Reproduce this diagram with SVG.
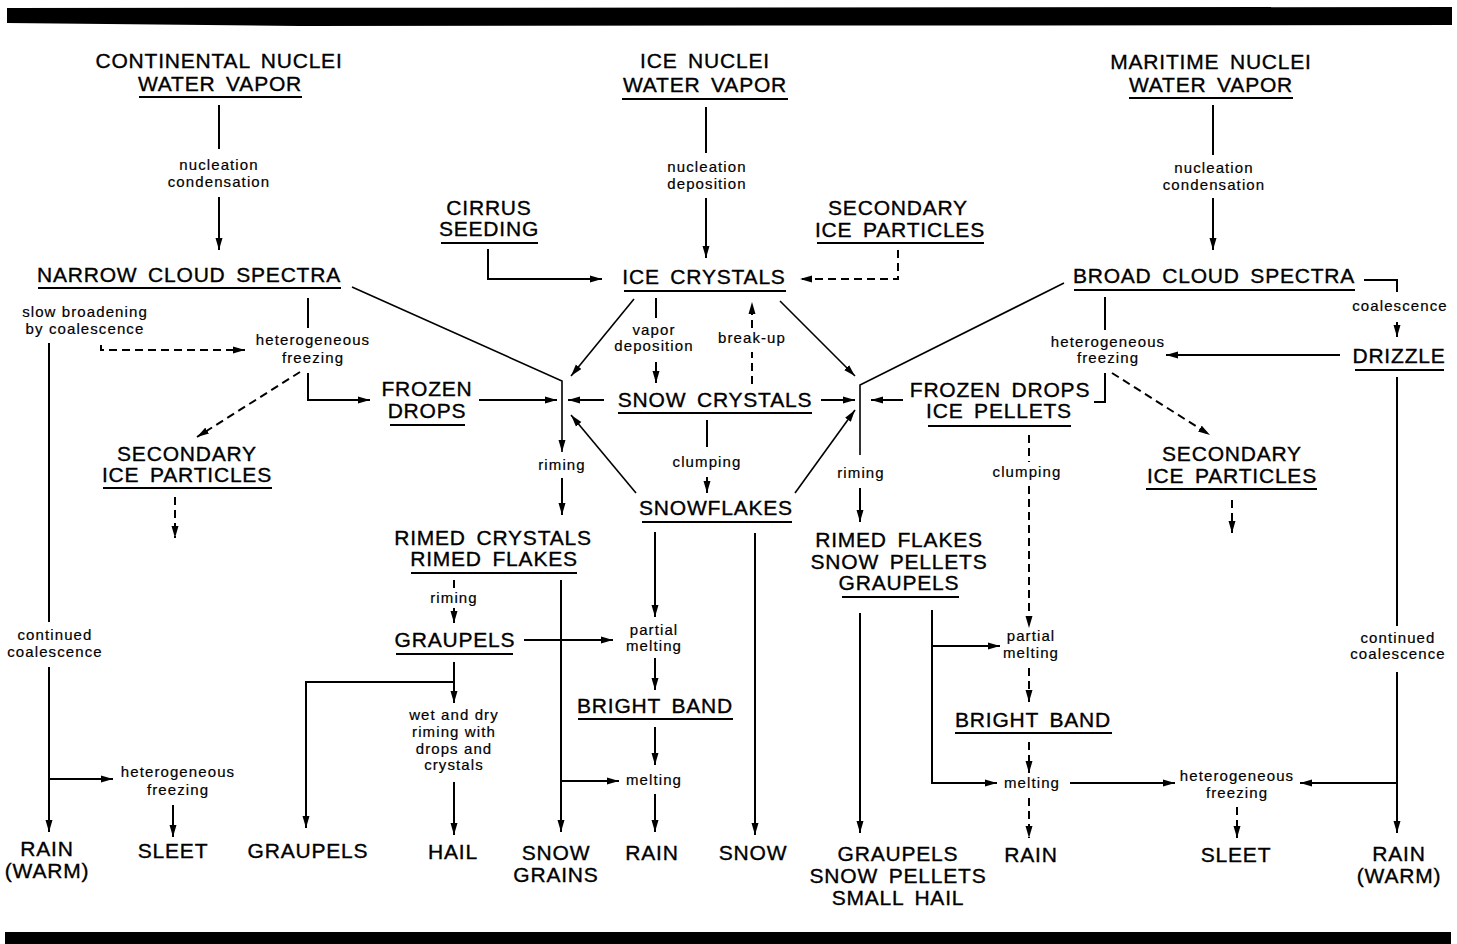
<svg xmlns="http://www.w3.org/2000/svg" width="1457" height="944" viewBox="0 0 1457 944">
<defs>
<marker id="ah" markerUnits="userSpaceOnUse" markerWidth="13" markerHeight="8" refX="12" refY="4" orient="auto">
<path d="M0,0.5 L12,4 L0,7.5 z" fill="#000"/>
</marker>
<style>
.b{font-family:"Liberation Sans",Arial,sans-serif;font-size:21px;letter-spacing:0.8px;word-spacing:4px;text-anchor:middle;fill:#000;stroke:#000;stroke-width:0.35px}
.s{font-family:"Liberation Sans",Arial,sans-serif;font-size:15px;letter-spacing:1.1px;text-anchor:middle;fill:#000;stroke:#000;stroke-width:0.2px}
.u{stroke:#000;stroke-width:1.8}
.c{stroke:#000;stroke-width:2;fill:none}
.a{marker-end:url(#ah)}
.d{stroke-dasharray:8 5}
.g{stroke-width:1.6}
</style>
</defs>
<rect width="1457" height="944" fill="#fff"/>
<polygon points="7,8 1452,7 1452,25 300,26 7,23" fill="#000"/>
<rect x="5" y="932" width="1446" height="12" fill="#000"/>

<g id="n_continental"><text class="b" x="219" y="68">CONTINENTAL NUCLEI</text><text class="b" x="220" y="91">WATER VAPOR</text><line class="u" x1="139" y1="97" x2="302" y2="97"/></g>
<g id="n_ice_nuclei"><text class="b" x="705" y="68">ICE NUCLEI</text><text class="b" x="705" y="92">WATER VAPOR</text><line class="u" x1="622" y1="99" x2="788" y2="99"/></g>
<g id="n_maritime"><text class="b" x="1211" y="69">MARITIME NUCLEI</text><text class="b" x="1211" y="92">WATER VAPOR</text><line class="u" x1="1129" y1="98" x2="1293" y2="98"/></g>
<g id="n_narrow"><text class="b" x="189" y="282">NARROW CLOUD SPECTRA</text><line class="u" x1="38" y1="288" x2="341" y2="288"/></g>
<g id="n_cirrus"><text class="b" x="489" y="215">CIRRUS</text><text class="b" x="489" y="236">SEEDING</text><line class="u" x1="441" y1="243" x2="538" y2="243"/></g>
<g id="n_ice_crystals"><text class="b" x="704" y="284">ICE CRYSTALS</text><line class="u" x1="624" y1="291" x2="786" y2="291"/></g>
<g id="n_secondary_top"><text class="b" x="898" y="215">SECONDARY</text><text class="b" x="900" y="237">ICE PARTICLES</text><line class="u" x1="817" y1="243" x2="984" y2="243"/></g>
<g id="n_broad"><text class="b" x="1214" y="283">BROAD CLOUD SPECTRA</text><line class="u" x1="1074" y1="290" x2="1355" y2="290"/></g>
<g id="n_drizzle"><text class="b" x="1399" y="363">DRIZZLE</text><line class="u" x1="1355" y1="370" x2="1444" y2="370"/></g>
<g id="n_frozen_left"><text class="b" x="427" y="396">FROZEN</text><text class="b" x="427" y="418">DROPS</text><line class="u" x1="390" y1="425" x2="465" y2="425"/></g>
<g id="n_snow_crystals"><text class="b" x="715" y="407">SNOW CRYSTALS</text><line class="u" x1="618" y1="413" x2="812" y2="413"/></g>
<g id="n_frozen_right"><text class="b" x="1000" y="397">FROZEN DROPS</text><text class="b" x="999" y="418">ICE PELLETS</text><line class="u" x1="928" y1="426" x2="1071" y2="426"/></g>
<g id="n_secondary_left"><text class="b" x="187" y="461">SECONDARY</text><text class="b" x="187" y="482">ICE PARTICLES</text><line class="u" x1="103" y1="488" x2="272" y2="488"/></g>
<g id="n_secondary_right"><text class="b" x="1232" y="461">SECONDARY</text><text class="b" x="1232" y="483">ICE PARTICLES</text><line class="u" x1="1146" y1="489" x2="1317" y2="489"/></g>
<g id="n_snowflakes"><text class="b" x="716" y="515">SNOWFLAKES</text><line class="u" x1="642" y1="522" x2="792" y2="522"/></g>
<g id="n_rimed_crystals"><text class="b" x="493" y="545">RIMED CRYSTALS</text><text class="b" x="494" y="566">RIMED FLAKES</text><line class="u" x1="411" y1="573" x2="577" y2="573"/></g>
<g id="n_rimed_flakes"><text class="b" x="899" y="547">RIMED FLAKES</text><text class="b" x="899" y="569">SNOW PELLETS</text><text class="b" x="899" y="590">GRAUPELS</text><line class="u" x1="842" y1="597" x2="959" y2="597"/></g>
<g id="n_graupels_mid"><text class="b" x="455" y="647">GRAUPELS</text><line class="u" x1="396" y1="654" x2="513" y2="654"/></g>
<g id="n_bright_left"><text class="b" x="655" y="713">BRIGHT BAND</text><line class="u" x1="578" y1="719" x2="733" y2="719"/></g>
<g id="n_bright_right"><text class="b" x="1033" y="727">BRIGHT BAND</text><line class="u" x1="955" y1="733" x2="1112" y2="733"/></g>
<g id="n_rain_warm_left"><text class="b" x="47" y="856">RAIN</text><text class="b" x="47" y="878">(WARM)</text></g>
<g id="n_sleet_left"><text class="b" x="173" y="858">SLEET</text></g>
<g id="n_graupels_out"><text class="b" x="308" y="858">GRAUPELS</text></g>
<g id="n_hail"><text class="b" x="453" y="859">HAIL</text></g>
<g id="n_snow_grains"><text class="b" x="556" y="860">SNOW</text><text class="b" x="556" y="882">GRAINS</text></g>
<g id="n_rain_mid"><text class="b" x="652" y="860">RAIN</text></g>
<g id="n_snow"><text class="b" x="753" y="860">SNOW</text></g>
<g id="n_graupels_hail"><text class="b" x="898" y="861">GRAUPELS</text><text class="b" x="898" y="883">SNOW PELLETS</text><text class="b" x="898" y="905">SMALL HAIL</text></g>
<g id="n_rain_right"><text class="b" x="1031" y="862">RAIN</text></g>
<g id="n_sleet_right"><text class="b" x="1236" y="862">SLEET</text></g>
<g id="n_rain_warm_right"><text class="b" x="1399" y="861">RAIN</text><text class="b" x="1399" y="883">(WARM)</text></g>

<g id="connectors">
<path class="c" d="M219,105 V149"/>
<path class="c a" d="M219,197 V250"/>
<path class="c" d="M706,107 V153"/>
<path class="c a" d="M706,198 V258"/>
<path class="c" d="M1213,105 V155"/>
<path class="c a" d="M1213,198 V250"/>
<path class="c a" d="M488,249 V279 H602"/>
<path class="c d a" d="M898,250 V279 H800"/>
<path class="c g a" d="M352,287 L562,381 V452"/>
<path class="c" d="M308,298 V328"/>
<path class="c d a" d="M101,345 V350 H245"/>
<path class="c a" d="M308,373 V400 H370"/>
<path class="c d a" d="M300,372 L197,437"/>
<path class="c d a" d="M175,497 V538"/>
<path class="c" d="M49,343 V622"/>
<path class="c a" d="M49,667 V832"/>
<path class="c a" d="M49,779 H113"/>
<path class="c a" d="M173,805 V837"/>
<path class="c g a" d="M634,299 L571,376"/>
<path class="c" d="M656,298 V318"/>
<path class="c a" d="M656,362 V383"/>
<path class="c d" d="M752,384 V352"/>
<path class="c d a" d="M752,328 V302"/>
<path class="c g a" d="M780,301 L855,376"/>
<path class="c a" d="M479,400 H557"/>
<path class="c a" d="M604,400 H568"/>
<path class="c a" d="M821,400 H855"/>
<path class="c" d="M707,420 V447"/>
<path class="c a" d="M707,477 V493"/>
<path class="c g a" d="M636,493 L571,415"/>
<path class="c g a" d="M795,493 L855,410"/>
<path class="c a" d="M562,478 V515"/>
<path class="c g" d="M1064,283 L860,385 V455"/>
<path class="c a" d="M860,488 V522"/>
<path class="c a" d="M903,400 H871"/>
<path class="c" d="M1105,297 V330"/>
<path class="c" d="M1105,373 V402 H1094"/>
<path class="c d a" d="M1112,373 L1210,435"/>
<path class="c" d="M1364,280 H1397 V292"/>
<path class="c a" d="M1397,322 V337"/>
<path class="c a" d="M1340,355 H1166"/>
<path class="c" d="M1397,377 V626"/>
<path class="c a" d="M1397,672 V833"/>
<path class="c a" d="M1397,783 H1300"/>
<path class="c d a" d="M1232,500 V533"/>
<path class="c d" d="M1029,435 V462"/>
<path class="c d a" d="M1029,486 V628"/>
<path class="c d a" d="M1029,668 V702"/>
<path class="c d a" d="M1029,742 V773"/>
<path class="c d a" d="M1029,798 V838"/>
<path class="c a" d="M860,613 V833"/>
<path class="c a" d="M932,610 V783 H997"/>
<path class="c a" d="M932,646 H1000"/>
<path class="c a" d="M1070,783 H1175"/>
<path class="c d a" d="M1237,807 V838"/>
<path class="c d" d="M454,580 V588"/>
<path class="c a" d="M454,608 V623"/>
<path class="c a" d="M524,640 H613"/>
<path class="c a" d="M454,662 V703"/>
<path class="c a" d="M454,682 H306 V828"/>
<path class="c a" d="M454,782 V835"/>
<path class="c a" d="M561,580 V832"/>
<path class="c a" d="M561,781 H619"/>
<path class="c a" d="M655,532 V617"/>
<path class="c a" d="M655,658 V690"/>
<path class="c a" d="M655,727 V765"/>
<path class="c a" d="M655,794 V832"/>
<path class="c a" d="M755,533 V835"/>
</g>

<g id="labels">
<text class="s" x="219" y="170">nucleation</text><text class="s" x="219" y="187">condensation</text>
<text class="s" x="707" y="172">nucleation</text><text class="s" x="707" y="189">deposition</text>
<text class="s" x="1214" y="173">nucleation</text><text class="s" x="1214" y="190">condensation</text>
<text class="s" x="85" y="317">slow broadening</text><text class="s" x="85" y="334">by coalescence</text>
<text class="s" x="313" y="345">heterogeneous</text><text class="s" x="313" y="363">freezing</text>
<text class="s" x="654" y="335">vapor</text><text class="s" x="654" y="351">deposition</text>
<text class="s" x="752" y="343">break-up</text>
<text class="s" x="1400" y="311">coalescence</text>
<text class="s" x="1108" y="347">heterogeneous</text><text class="s" x="1108" y="363">freezing</text>
<text class="s" x="562" y="470">riming</text>
<text class="s" x="861" y="478">riming</text>
<text class="s" x="707" y="467">clumping</text>
<text class="s" x="1027" y="477">clumping</text>
<text class="s" x="454" y="603">riming</text>
<text class="s" x="654" y="635">partial</text><text class="s" x="654" y="651">melting</text>
<text class="s" x="454" y="720">wet and dry</text><text class="s" x="454" y="737">riming with</text><text class="s" x="454" y="754">drops and</text><text class="s" x="454" y="770">crystals</text>
<text class="s" x="654" y="785">melting</text>
<text class="s" x="55" y="640">continued</text><text class="s" x="55" y="657">coalescence</text>
<text class="s" x="178" y="777">heterogeneous</text><text class="s" x="178" y="795">freezing</text>
<text class="s" x="1031" y="641">partial</text><text class="s" x="1031" y="658">melting</text>
<text class="s" x="1032" y="788">melting</text>
<text class="s" x="1237" y="781">heterogeneous</text><text class="s" x="1237" y="798">freezing</text>
<text class="s" x="1398" y="643">continued</text><text class="s" x="1398" y="659">coalescence</text>
</g>
</svg>
